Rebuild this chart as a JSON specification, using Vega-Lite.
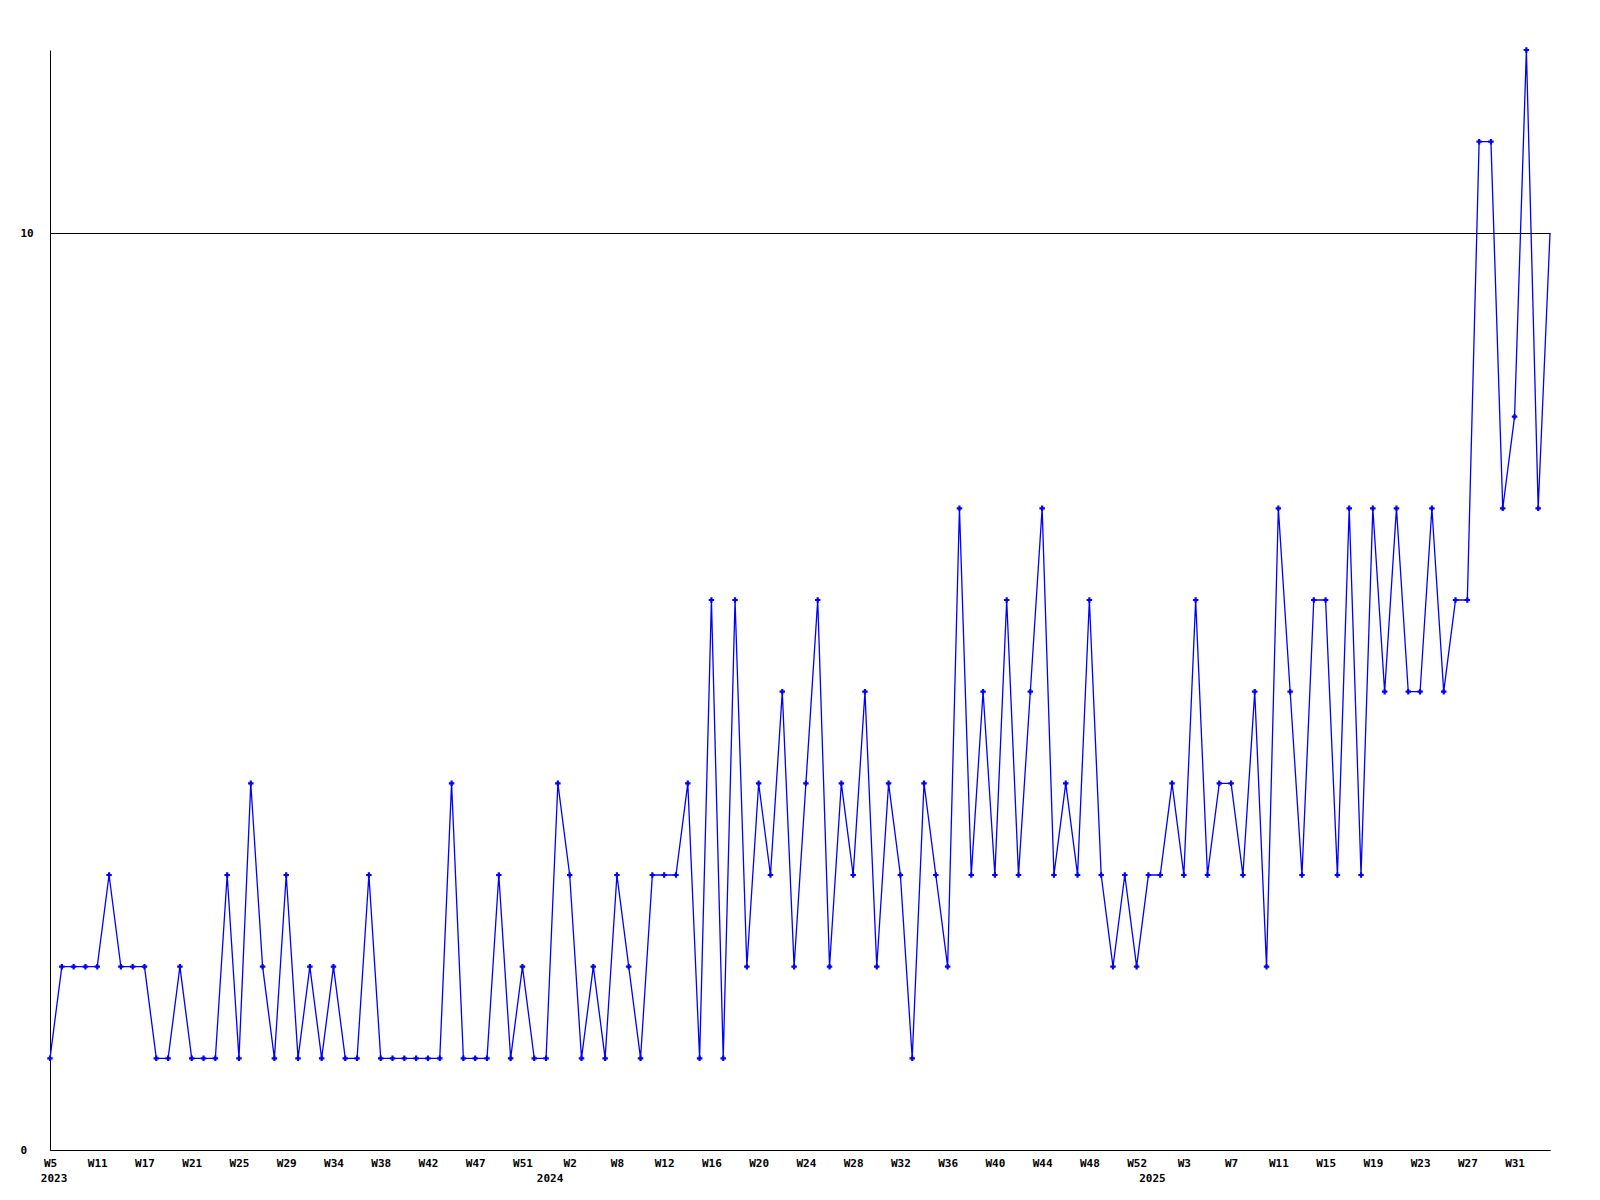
{
  "$schema": "https://vega.github.io/schema/vega-lite/v6.json",
  "width": 1500,
  "height": 1100,
  "autosize": {"type": "none"},
  "padding": {"left": 50, "top": 50, "right": 50, "bottom": 50},
  "background": "white",
  "config": {
    "view": {"stroke": null},
    "axis": {
      "labelFont": "DejaVu Sans Mono",
      "labelFontWeight": "bold",
      "labelFontSize": 11,
      "labelColor": "black",
      "domainColor": "black",
      "domainWidth": 1,
      "ticks": false,
      "tickSize": 0,
      "title": null
    }
  },
  "data": {
    "values": [
      {"n": 0, "value": 1}, {"n": 1, "value": 2}, {"n": 2, "value": 2}, {"n": 3, "value": 2},
      {"n": 4, "value": 2}, {"n": 5, "value": 3}, {"n": 6, "value": 2}, {"n": 7, "value": 2},
      {"n": 8, "value": 2}, {"n": 9, "value": 1}, {"n": 10, "value": 1}, {"n": 11, "value": 2},
      {"n": 12, "value": 1}, {"n": 13, "value": 1}, {"n": 14, "value": 1}, {"n": 15, "value": 3},
      {"n": 16, "value": 1}, {"n": 17, "value": 4}, {"n": 18, "value": 2}, {"n": 19, "value": 1},
      {"n": 20, "value": 3}, {"n": 21, "value": 1}, {"n": 22, "value": 2}, {"n": 23, "value": 1},
      {"n": 24, "value": 2}, {"n": 25, "value": 1}, {"n": 26, "value": 1}, {"n": 27, "value": 3},
      {"n": 28, "value": 1}, {"n": 29, "value": 1}, {"n": 30, "value": 1}, {"n": 31, "value": 1},
      {"n": 32, "value": 1}, {"n": 33, "value": 1}, {"n": 34, "value": 4}, {"n": 35, "value": 1},
      {"n": 36, "value": 1}, {"n": 37, "value": 1}, {"n": 38, "value": 3}, {"n": 39, "value": 1},
      {"n": 40, "value": 2}, {"n": 41, "value": 1}, {"n": 42, "value": 1}, {"n": 43, "value": 4},
      {"n": 44, "value": 3}, {"n": 45, "value": 1}, {"n": 46, "value": 2}, {"n": 47, "value": 1},
      {"n": 48, "value": 3}, {"n": 49, "value": 2}, {"n": 50, "value": 1}, {"n": 51, "value": 3},
      {"n": 52, "value": 3}, {"n": 53, "value": 3}, {"n": 54, "value": 4}, {"n": 55, "value": 1},
      {"n": 56, "value": 6}, {"n": 57, "value": 1}, {"n": 58, "value": 6}, {"n": 59, "value": 2},
      {"n": 60, "value": 4}, {"n": 61, "value": 3}, {"n": 62, "value": 5}, {"n": 63, "value": 2},
      {"n": 64, "value": 4}, {"n": 65, "value": 6}, {"n": 66, "value": 2}, {"n": 67, "value": 4},
      {"n": 68, "value": 3}, {"n": 69, "value": 5}, {"n": 70, "value": 2}, {"n": 71, "value": 4},
      {"n": 72, "value": 3}, {"n": 73, "value": 1}, {"n": 74, "value": 4}, {"n": 75, "value": 3},
      {"n": 76, "value": 2}, {"n": 77, "value": 7}, {"n": 78, "value": 3}, {"n": 79, "value": 5},
      {"n": 80, "value": 3}, {"n": 81, "value": 6}, {"n": 82, "value": 3}, {"n": 83, "value": 5},
      {"n": 84, "value": 7}, {"n": 85, "value": 3}, {"n": 86, "value": 4}, {"n": 87, "value": 3},
      {"n": 88, "value": 6}, {"n": 89, "value": 3}, {"n": 90, "value": 2}, {"n": 91, "value": 3},
      {"n": 92, "value": 2}, {"n": 93, "value": 3}, {"n": 94, "value": 3}, {"n": 95, "value": 4},
      {"n": 96, "value": 3}, {"n": 97, "value": 6}, {"n": 98, "value": 3}, {"n": 99, "value": 4},
      {"n": 100, "value": 4}, {"n": 101, "value": 3}, {"n": 102, "value": 5}, {"n": 103, "value": 2},
      {"n": 104, "value": 7}, {"n": 105, "value": 5}, {"n": 106, "value": 3}, {"n": 107, "value": 6},
      {"n": 108, "value": 6}, {"n": 109, "value": 3}, {"n": 110, "value": 7}, {"n": 111, "value": 3},
      {"n": 112, "value": 7}, {"n": 113, "value": 5}, {"n": 114, "value": 7}, {"n": 115, "value": 5},
      {"n": 116, "value": 5}, {"n": 117, "value": 7}, {"n": 118, "value": 5}, {"n": 119, "value": 6},
      {"n": 120, "value": 6}, {"n": 121, "value": 11}, {"n": 122, "value": 11}, {"n": 123, "value": 7},
      {"n": 124, "value": 8}, {"n": 125, "value": 12}, {"n": 126, "value": 7}, {"n": 127, "value": 10}
    ]
  },
  "layer": [
    {
      "mark": {"type": "line", "color": "#0000ff", "strokeWidth": 1.3},
      "encoding": {
        "x": {
          "field": "n",
          "type": "quantitative",
          "scale": {"domain": [0, 127], "nice": false, "zero": false},
          "axis": {
            "orient": "bottom",
            "values": [0, 4, 8, 12, 16, 20, 24, 28, 32, 36, 40, 44, 48, 52, 56, 60, 64, 68, 72, 76, 80, 84, 88, 92, 96, 100, 104, 108, 112, 116, 120, 124],
            "labelExpr": "['W5','W11','W17','W21','W25','W29','W34','W38','W42','W47','W51','W2','W8','W12','W16','W20','W24','W28','W32','W36','W40','W44','W48','W52','W3','W7','W11','W15','W19','W23','W27','W31'][round(datum.value/4)]",
            "labelPadding": 7,
            "labelBaseline": "top",
            "grid": false,
            "labelOverlap": false,
            "labelFlush": false,
            "labelBound": false,
            "encode": {"labels": {"update": {"dx": {"signal": "datum.value === 0 ? -3 : 0"}}}}
          }
        },
        "y": {
          "field": "value",
          "type": "quantitative",
          "scale": {"domain": [0, 12], "nice": false, "zero": true},
          "axis": {
            "values": [0, 10],
            "format": "d",
            "grid": true,
            "gridColor": "black",
            "gridOpacity": 1,
            "gridWidth": 1,
            "labelAlign": "left",
            "labelBaseline": "middle",
            "labelPadding": 30,
            "labelFlush": false,
            "labelOverlap": false
          }
        }
      }
    },
    {
      "transform": [{"filter": "datum.n < 127"}],
      "mark": {"type": "point", "shape": "cross", "filled": true, "color": "#0000ff", "size": 30, "opacity": 1},
      "encoding": {
        "x": {
          "field": "n",
          "type": "quantitative",
          "axis": {
            "orient": "bottom",
            "values": [0.3, 42.3, 93.3],
            "labelExpr": "datum.value < 10 ? '2023' : (datum.value < 60 ? '2024' : '2025')",
            "labelPadding": 22,
            "labelBaseline": "top",
            "domain": false,
            "grid": false,
            "labelOverlap": false,
            "labelFlush": false,
            "labelBound": false
          }
        },
        "y": {"field": "value", "type": "quantitative"}
      }
    }
  ],
  "resolve": {"axis": {"x": "independent"}}
}
